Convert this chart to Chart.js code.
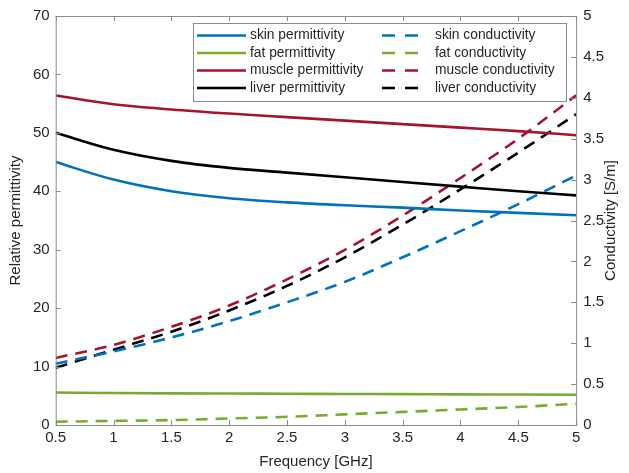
<!DOCTYPE html>
<html>
<head>
<meta charset="utf-8">
<script src="https://cdn.jsdelivr.net/npm/chart.js@4.4.0/dist/chart.umd.min.js"></script>
<style>
  body { margin: 0; background: #fff; }
</style>
</head>
<body>
<canvas id="tissueChart" width="629" height="473"></canvas>
<script>
// Dielectric properties of tissues, 0.5 - 5 GHz
const freqGHz = [0.5, 1, 1.5, 2, 2.5, 3, 3.5, 4, 4.5, 5];

const skinPermittivity   = [45.0, 42.0, 40.0, 38.8, 38.1, 37.6, 37.2, 36.7, 36.3, 35.9];
const fatPermittivity    = [5.55, 5.48, 5.42, 5.38, 5.35, 5.31, 5.28, 5.25, 5.21, 5.17];
const musclePermittivity = [56.4, 54.9, 54.0, 53.3, 52.7, 52.1, 51.5, 50.9, 50.3, 49.6];
const liverPermittivity  = [50.0, 47.1, 45.2, 44.0, 43.2, 42.4, 41.6, 40.8, 40.0, 39.3];

const skinConductivity   = [0.75, 0.90, 1.07, 1.27, 1.50, 1.75, 2.05, 2.37, 2.70, 3.05];
const fatConductivity    = [0.04, 0.05, 0.06, 0.08, 0.10, 0.13, 0.16, 0.19, 0.22, 0.26];
const muscleConductivity = [0.82, 0.98, 1.20, 1.46, 1.78, 2.14, 2.56, 3.02, 3.50, 4.03];
const liverConductivity  = [0.70, 0.92, 1.14, 1.40, 1.70, 2.05, 2.45, 2.88, 3.33, 3.80];

const xTicks = [0.5, 1, 1.5, 2, 2.5, 3, 3.5, 4, 4.5, 5];

const BLUE = '#0072BD';
const GREEN = '#77AC30';
const RED = '#A2142F';
const BLACK = '#000000';
const DASH = [12, 8];
const FONT = "'Liberation Sans', Arial, sans-serif";

function pts(ys) {
    return ys.map((y, i) => ({ x: freqGHz[i], y: y }));
}

function series(label, ys, color, axis, dashed) {
    return {
        label: label,
        data: pts(ys),
        borderColor: color,
        backgroundColor: color,
        borderWidth: 2.6,
        borderDash: dashed ? DASH : [],
        pointRadius: 0,
        cubicInterpolationMode: 'monotone',
        yAxisID: axis
    };
}

// MATLAB-style frame: box plus inward tick marks, and the right axis title
const frameTicks = {
    id: 'frameTicks',
    afterDraw(chart) {
        const ctx = chart.ctx;
        const a = chart.chartArea;
        const len = 5;
        ctx.save();
        ctx.strokeStyle = '#8a8a8a';
        ctx.lineWidth = 1;
        ctx.strokeRect(a.left + 0.5, a.top + 0.5, a.right - a.left, a.bottom - a.top);
        ctx.beginPath();
        const xs = chart.scales.x;
        xs.ticks.forEach(t => {
            const px = Math.round(xs.getPixelForValue(t.value)) + 0.5;
            ctx.moveTo(px, a.bottom); ctx.lineTo(px, a.bottom - len);
            ctx.moveTo(px, a.top); ctx.lineTo(px, a.top + len);
        });
        const yl = chart.scales.yL;
        yl.ticks.forEach(t => {
            const py = Math.round(yl.getPixelForValue(t.value)) + 0.5;
            ctx.moveTo(a.left, py); ctx.lineTo(a.left + len, py);
        });
        const yr = chart.scales.yR;
        yr.ticks.forEach(t => {
            const py = Math.round(yr.getPixelForValue(t.value)) + 0.5;
            ctx.moveTo(a.right, py); ctx.lineTo(a.right - len, py);
        });
        ctx.stroke();

        ctx.translate(611, (a.top + a.bottom) / 2);
        ctx.rotate(-Math.PI / 2);
        ctx.font = '15px ' + FONT;
        ctx.fillStyle = '#262626';
        ctx.textAlign = 'center';
        ctx.textBaseline = 'middle';
        ctx.fillText('Conductivity [S/m]', 0, 0);
        ctx.restore();
    }
};

// two-column legend box in the upper right
const boxLegend = {
    id: 'boxLegend',
    afterDraw(chart) {
        const ctx = chart.ctx;
        const left = 193, top = 23, right = 566, bottom = 101;
        const rowY = [35.5, 53, 70.5, 88];
        const cols = [{ x0: 197, x1: 246, tx: 250 }, { x0: 382, x1: 420, tx: 435 }];
        ctx.save();
        ctx.fillStyle = '#fff';
        ctx.fillRect(left, top, right - left, bottom - top);
        ctx.strokeStyle = '#8a8a8a';
        ctx.lineWidth = 1;
        ctx.strokeRect(left + 0.5, top + 0.5, right - left, bottom - top);
        ctx.font = '13.8px ' + FONT;
        ctx.textBaseline = 'middle';
        chart.data.datasets.forEach((ds, i) => {
            const c = cols[Math.floor(i / 4)];
            const y = rowY[i % 4];
            ctx.strokeStyle = ds.borderColor;
            ctx.lineWidth = 2.6;
            ctx.setLineDash(ds.borderDash.length ? [13, 10] : []);
            ctx.beginPath();
            ctx.moveTo(c.x0, y);
            ctx.lineTo(c.x1, y);
            ctx.stroke();
            ctx.setLineDash([]);
            ctx.fillStyle = '#262626';
            ctx.fillText(ds.label, c.tx, y);
        });
        ctx.restore();
    }
};

Chart.defaults.font.family = FONT;
Chart.defaults.font.size = 15;
Chart.defaults.color = '#262626';

const plainNumber = v => String(v);

new Chart(document.getElementById('tissueChart'), {
    type: 'line',
    data: {
        datasets: [
            series('skin permittivity', skinPermittivity, BLUE, 'yL', false),
            series('fat permittivity', fatPermittivity, GREEN, 'yL', false),
            series('muscle permittivity', musclePermittivity, RED, 'yL', false),
            series('liver permittivity', liverPermittivity, BLACK, 'yL', false),
            series('skin conductivity', skinConductivity, BLUE, 'yR', true),
            series('fat conductivity', fatConductivity, GREEN, 'yR', true),
            series('muscle conductivity', muscleConductivity, RED, 'yR', true),
            series('liver conductivity', liverConductivity, BLACK, 'yR', true)
        ]
    },
    options: {
        responsive: false,
        animation: false,
        layout: { padding: { left: 7, right: 18, top: 1, bottom: 2 } },
        plugins: {
            legend: { display: false },
            tooltip: { enabled: false }
        },
        scales: {
            x: {
                type: 'linear',
                min: 0.5,
                max: 5,
                afterBuildTicks: s => { s.ticks = xTicks.map(v => ({ value: v })); },
                grid: { display: false, drawTicks: false },
                border: { display: false },
                ticks: { padding: 4, maxRotation: 0, callback: plainNumber },
                title: { display: true, text: 'Frequency [GHz]', padding: { top: 2, bottom: 0 } }
            },
            yL: {
                position: 'left',
                min: 0,
                max: 70,
                ticks: { stepSize: 10, padding: 6, callback: plainNumber },
                grid: { display: false, drawTicks: false },
                border: { display: false },
                title: { display: true, text: 'Relative permittivity', padding: { top: 0, bottom: 2 } }
            },
            yR: {
                position: 'right',
                min: 0,
                max: 5,
                ticks: { stepSize: 0.5, padding: 7, callback: plainNumber },
                grid: { display: false, drawTicks: false },
                border: { display: false }
            }
        }
    },
    plugins: [frameTicks, boxLegend]
});
</script>
</body>
</html>
